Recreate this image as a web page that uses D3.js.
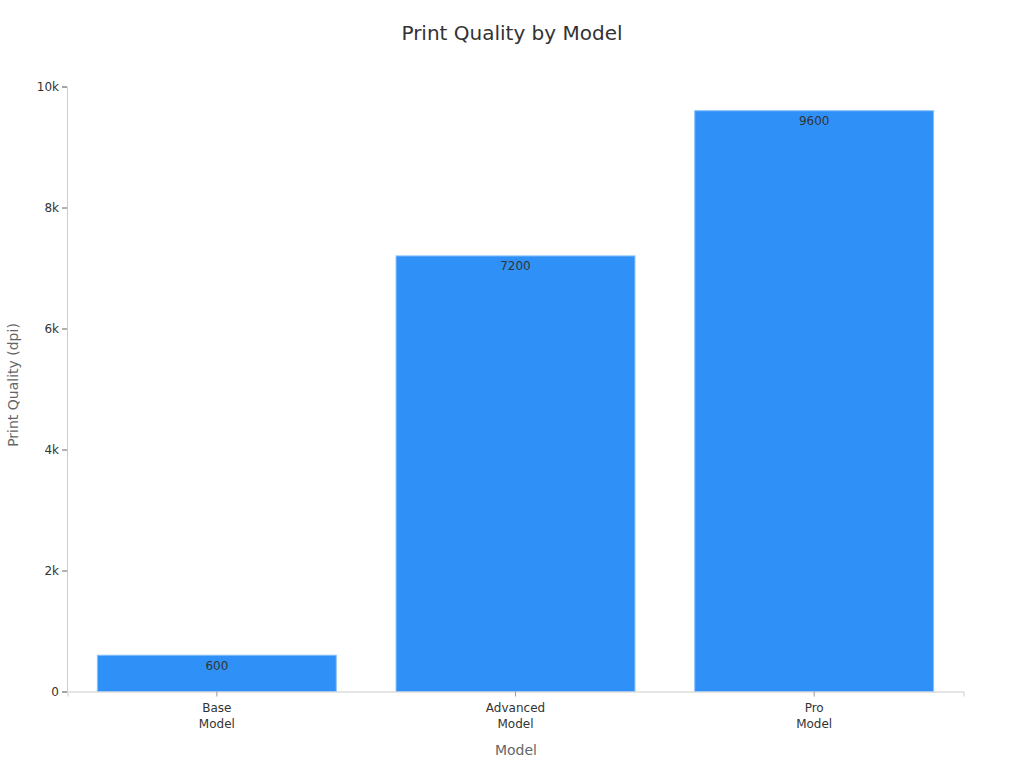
<!DOCTYPE html>
<html><head><meta charset="utf-8">
<script src="https://cdn.jsdelivr.net/npm/d3@7"></script>
<style>
html,body{margin:0;padding:0;background:#fff;}
text{font-family:"DejaVu Sans",sans-serif;}
</style></head>
<body>
<svg id="chart" width="1024" height="768"></svg>
<script>
const categories = ["Base\nModel", "Advanced\nModel", "Pro\nModel"];
const values = [600, 7200, 9600];
const yTicks = [0, 2000, 4000, 6000, 8000, 10000];
const title = "Print Quality by Model";
const xTitle = "Model";
const yTitle = "Print Quality (dpi)";

const svg = d3.select("#chart");
const W = 1024, H = 768;
const x = d3.scaleBand().domain(categories).range([67.5, 963.5]).paddingInner(0.2).paddingOuter(0.1);
const y = d3.scaleLinear().domain([0, 10000]).range([691.5, 86.5]);

svg.append("text").attr("x", 512).attr("y", 40).attr("text-anchor", "middle")
  .attr("font-size", 20).attr("fill", "#333").text(title);

// bars
svg.append("g").selectAll("rect").data(values).join("rect")
  .attr("x", (d, i) => x(categories[i]))
  .attr("y", d => y(d))
  .attr("width", x.bandwidth())
  .attr("height", d => y(0) - y(d))
  .attr("fill", "#2f91f7")
  .attr("stroke", "#8cc3fb").attr("stroke-width", 1);

svg.append("g").selectAll("text").data(values).join("text")
  .attr("x", (d, i) => x(categories[i]) + x.bandwidth() / 2)
  .attr("y", d => y(d) + 14.5)
  .attr("text-anchor", "middle").attr("font-size", 12).attr("fill", "#333")
  .text(d => d);

// y axis
const ya = svg.append("g").attr("transform", `translate(67,0)`)
  .call(d3.axisLeft(y).tickValues(yTicks).tickFormat(d3.format("~s")).tickSizeOuter(0).tickSize(5));
ya.select(".domain").attr("stroke", "#ccc");
ya.selectAll(".tick line").attr("stroke", "#666");
ya.selectAll(".tick text").attr("font-size", 12).attr("fill", "#333").attr("font-family", "DejaVu Sans");

// x axis
const xa = svg.append("g").attr("transform", `translate(0,${y(0)})`)
  .call(d3.axisBottom(x).tickSizeOuter(0).tickSize(5).tickFormat(""));
xa.select(".domain").attr("stroke", "#ccc");
xa.selectAll(".tick line").attr("stroke", "#999");
xa.selectAll(".tick").each(function(d) {
  const t = d3.select(this).append("text").attr("fill", "#333").attr("font-size", 12)
    .attr("text-anchor", "middle").attr("font-family", "DejaVu Sans");
  d.split("\n").forEach((s, i) => t.append("tspan").attr("x", 0).attr("y", 20.5 + i * 16).text(s));
});

svg.append("text").attr("x", 516).attr("y", 755).attr("text-anchor", "middle")
  .attr("font-size", 14).attr("fill", "#666").text(xTitle);
svg.append("text").attr("transform", `translate(18,385) rotate(-90)`)
  .attr("text-anchor", "middle").attr("font-size", 14).attr("fill", "#666").text(yTitle);
</script>
</body></html>
